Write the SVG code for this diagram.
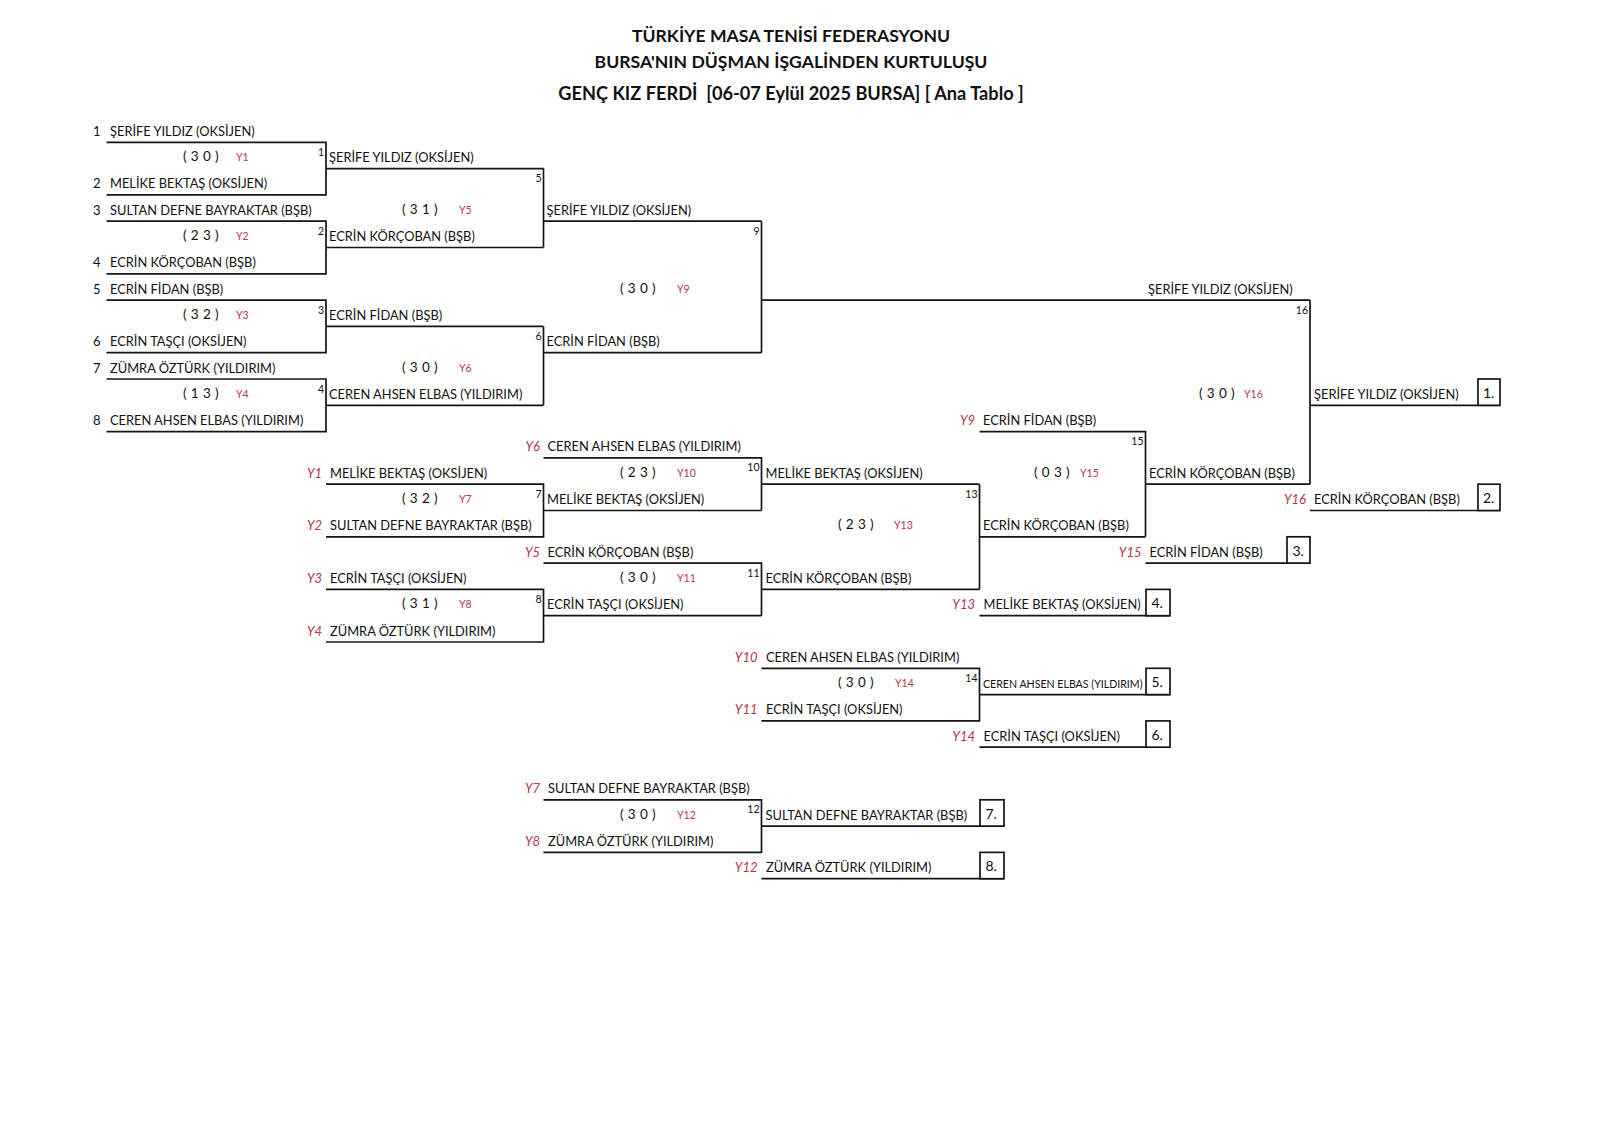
<svg xmlns="http://www.w3.org/2000/svg" width="1600" height="1131" viewBox="0 0 1600 1131">
<style>
text{font-family:Lato,"Liberation Sans","DejaVu Sans",sans-serif;fill:#111}
.t{font-size:17.6px;font-weight:bold;text-anchor:middle}
.t3{font-size:18.2px}
.n{font-size:12.85px}
.ns{font-size:10.6px}
.p{font-size:13px}
.s{font-size:13.5px;word-spacing:0.8px}
.y{font-size:10.5px;fill:#b5364f}
.yi{font-size:13px;font-style:italic;fill:#b5364f;text-anchor:end}
.m{font-size:10.5px;text-anchor:end}
.b{font-size:14px}
.ln{fill:none;stroke:#151515;stroke-width:1.7}
.bx{fill:#fff;stroke:#151515;stroke-width:1.7}
</style>
<rect width="1600" height="1131" fill="#fff"/>
<g id="title">
<text class="t" x="791" y="41.5">TÜRKİYE MASA TENİSİ FEDERASYONU</text>
<text class="t" x="791" y="68">BURSA'NIN DÜŞMAN İŞGALİNDEN KURTULUŞU</text>
<text class="t t3" x="791" y="99.5">GENÇ KIZ FERDİ&#160; [06-07 Eylül 2025 BURSA] [ Ana Tablo ]</text>
</g>
<g id="connectors" class="ln">
<path d="M106.5 142.3H326V194.9H106.5M326 168.6H543.5"/>
<path d="M106.5 221.2H326V273.8H106.5M326 247.5H543.5"/>
<path d="M106.5 300.1H326V352.7H106.5M326 326.4H543.5"/>
<path d="M106.5 379H326V431.6H106.5M326 405.3H543.5"/>
<path d="M543.5 168.6V247.5M543.5 221.2H761.5"/>
<path d="M543.5 326.4V405.3M543.5 352.7H761.5"/>
<path d="M761.5 221.2V352.7M761.5 300.1H1310"/>
<path d="M1310 300.1V484.2M1310 405.3H1500"/>
<path d="M1310 510.5H1500"/>
<path d="M979.5 431.6H1145.5V536.8M1145.5 484.2H1310"/>
<path d="M979.5 484.2V589.4M979.5 536.8H1145.5"/>
<path d="M1145.5 563.1H1310"/>
<path d="M326 484.2H543.5V536.8H326M543.5 510.5H761.5"/>
<path d="M543.5 457.9H761.5V510.5M761.5 484.2H979.5"/>
<path d="M326 589.4H543.5V642H326M543.5 615.7H761.5"/>
<path d="M543.5 563.1H761.5V615.7M761.5 589.4H979.5"/>
<path d="M979.5 615.7H1170"/>
<path d="M761.5 668.3H979.5V720.9H761.5M979.5 694.6H1170"/>
<path d="M979.5 747.2H1170"/>
<path d="M543.5 799.8H761.5V852.4H543.5M761.5 826.1H1004"/>
<path d="M761.5 878.7H1004"/>
</g>
<g id="r1">
<text class="p" x="93" y="135.8">1</text><text class="n" x="110" y="135.8">ŞERİFE YILDIZ (OKSİJEN)</text>
<text class="p" x="93" y="188.4">2</text><text class="n" x="110" y="188.4">MELİKE BEKTAŞ (OKSİJEN)</text>
<text class="p" x="93" y="214.7">3</text><text class="n" x="110" y="214.7">SULTAN DEFNE BAYRAKTAR (BŞB)</text>
<text class="p" x="93" y="267.3">4</text><text class="n" x="110" y="267.3">ECRİN KÖRÇOBAN (BŞB)</text>
<text class="p" x="93" y="293.6">5</text><text class="n" x="110" y="293.6">ECRİN FİDAN (BŞB)</text>
<text class="p" x="93" y="346.2">6</text><text class="n" x="110" y="346.2">ECRİN TAŞÇI (OKSİJEN)</text>
<text class="p" x="93" y="372.5">7</text><text class="n" x="110" y="372.5">ZÜMRA ÖZTÜRK (YILDIRIM)</text>
<text class="p" x="93" y="425.1">8</text><text class="n" x="110" y="425.1">CEREN AHSEN ELBAS (YILDIRIM)</text>
</g>
<g id="m1"><text class="s" x="183" y="161.1">( 3 0 )</text><text class="y" x="236" y="161.1">Y1</text><text class="m" x="324" y="155.8">1</text><text class="n" x="329" y="162.1">ŞERİFE YILDIZ (OKSİJEN)</text></g>
<g id="m2"><text class="s" x="183" y="240">( 2 3 )</text><text class="y" x="236" y="240">Y2</text><text class="m" x="324" y="234.7">2</text><text class="n" x="329" y="241">ECRİN KÖRÇOBAN (BŞB)</text></g>
<g id="m3"><text class="s" x="183" y="318.9">( 3 2 )</text><text class="y" x="236" y="318.9">Y3</text><text class="m" x="324" y="313.6">3</text><text class="n" x="329" y="319.9">ECRİN FİDAN (BŞB)</text></g>
<g id="m4"><text class="s" x="183" y="397.8">( 1 3 )</text><text class="y" x="236" y="397.8">Y4</text><text class="m" x="324" y="392.5">4</text><text class="n" x="329" y="398.8">CEREN AHSEN ELBAS (YILDIRIM)</text></g>
<g id="m5"><text class="s" x="402" y="213.7">( 3 1 )</text><text class="y" x="459" y="213.7">Y5</text><text class="m" x="541.5" y="182.1">5</text><text class="n" x="546.5" y="214.7">ŞERİFE YILDIZ (OKSİJEN)</text></g>
<g id="m6"><text class="s" x="402" y="371.5">( 3 0 )</text><text class="y" x="459" y="371.5">Y6</text><text class="m" x="541.5" y="339.9">6</text><text class="n" x="546.5" y="346.2">ECRİN FİDAN (BŞB)</text></g>
<g id="m9"><text class="s" x="620" y="292.6">( 3 0 )</text><text class="y" x="677" y="292.6">Y9</text><text class="m" x="759.5" y="234.7">9</text><text class="n" x="1148" y="293.6">ŞERİFE YILDIZ (OKSİJEN)</text></g>
<g id="m16"><text class="s" x="1199" y="397.8">( 3 0 )</text><text class="y" x="1244" y="397.8">Y16</text><text class="m" x="1308" y="313.6">16</text><text class="n" x="1314" y="398.8">ŞERİFE YILDIZ (OKSİJEN)</text></g>
<g id="m7"><text class="yi" x="322" y="477.7">Y1</text><text class="n" x="330" y="477.7">MELİKE BEKTAŞ (OKSİJEN)</text><text class="yi" x="322" y="530.3">Y2</text><text class="n" x="330" y="530.3">SULTAN DEFNE BAYRAKTAR (BŞB)</text><text class="s" x="402" y="503">( 3 2 )</text><text class="y" x="459" y="503">Y7</text><text class="m" x="541.5" y="497.7">7</text><text class="n" x="547" y="504">MELİKE BEKTAŞ (OKSİJEN)</text></g>
<g id="m8"><text class="yi" x="322" y="582.9">Y3</text><text class="n" x="330" y="582.9">ECRİN TAŞÇI (OKSİJEN)</text><text class="yi" x="322" y="635.5">Y4</text><text class="n" x="330" y="635.5">ZÜMRA ÖZTÜRK (YILDIRIM)</text><text class="s" x="402" y="608.2">( 3 1 )</text><text class="y" x="459" y="608.2">Y8</text><text class="m" x="541.5" y="602.9">8</text><text class="n" x="547" y="609.2">ECRİN TAŞÇI (OKSİJEN)</text></g>
<g id="m10"><text class="yi" x="540" y="451.4">Y6</text><text class="n" x="547.5" y="451.4">CEREN AHSEN ELBAS (YILDIRIM)</text><text class="s" x="620" y="476.7">( 2 3 )</text><text class="y" x="677" y="476.7">Y10</text><text class="m" x="759.5" y="471.4">10</text><text class="n" x="765.5" y="477.7">MELİKE BEKTAŞ (OKSİJEN)</text></g>
<g id="m11"><text class="yi" x="540" y="556.6">Y5</text><text class="n" x="547.5" y="556.6">ECRİN KÖRÇOBAN (BŞB)</text><text class="s" x="620" y="581.9">( 3 0 )</text><text class="y" x="677" y="581.9">Y11</text><text class="m" x="759.5" y="576.6">11</text><text class="n" x="765.5" y="582.9">ECRİN KÖRÇOBAN (BŞB)</text></g>
<g id="m13"><text class="s" x="838" y="529.3">( 2 3 )</text><text class="y" x="894" y="529.3">Y13</text><text class="m" x="977.5" y="497.7">13</text><text class="n" x="983" y="530.3">ECRİN KÖRÇOBAN (BŞB)</text></g>
<g id="m15"><text class="yi" x="975" y="425.1">Y9</text><text class="n" x="983" y="425.1">ECRİN FİDAN (BŞB)</text><text class="s" x="1034" y="476.7">( 0 3 )</text><text class="y" x="1080" y="476.7">Y15</text><text class="m" x="1143.5" y="445.1">15</text><text class="n" x="1149" y="477.7">ECRİN KÖRÇOBAN (BŞB)</text></g>
<g id="m14"><text class="yi" x="757.5" y="661.8">Y10</text><text class="n" x="766" y="661.8">CEREN AHSEN ELBAS (YILDIRIM)</text><text class="yi" x="757.5" y="714.4">Y11</text><text class="n" x="766" y="714.4">ECRİN TAŞÇI (OKSİJEN)</text><text class="s" x="838" y="687.1">( 3 0 )</text><text class="y" x="895" y="687.1">Y14</text><text class="m" x="977.5" y="681.8">14</text><text class="ns" x="983" y="688.1">CEREN AHSEN ELBAS (YILDIRIM)</text></g>
<g id="m12"><text class="yi" x="540" y="793.3">Y7</text><text class="n" x="548" y="793.3">SULTAN DEFNE BAYRAKTAR (BŞB)</text><text class="yi" x="540" y="845.9">Y8</text><text class="n" x="548" y="845.9">ZÜMRA ÖZTÜRK (YILDIRIM)</text><text class="s" x="620" y="818.6">( 3 0 )</text><text class="y" x="677" y="818.6">Y12</text><text class="m" x="759.5" y="813.3">12</text><text class="n" x="765.5" y="819.6">SULTAN DEFNE BAYRAKTAR (BŞB)</text></g>
<g id="place1"><rect class="bx" x="1478" y="379" width="22" height="26.3"/><text class="b" x="1483" y="397.5">1.</text></g>
<g id="place2"><text class="yi" x="1306" y="504">Y16</text><text class="n" x="1314" y="504">ECRİN KÖRÇOBAN (BŞB)</text><rect class="bx" x="1478" y="484.2" width="22" height="26.3"/><text class="b" x="1483" y="503">2.</text></g>
<g id="place3"><text class="yi" x="1141.5" y="556.6">Y15</text><text class="n" x="1149.5" y="556.6">ECRİN FİDAN (BŞB)</text><rect class="bx" x="1287" y="536.8" width="23" height="26.3"/><text class="b" x="1292.5" y="555.5">3.</text></g>
<g id="place4"><text class="yi" x="975" y="609.2">Y13</text><text class="n" x="983.5" y="609.2">MELİKE BEKTAŞ (OKSİJEN)</text><rect class="bx" x="1146" y="589.4" width="24" height="26.3"/><text class="b" x="1151.5" y="608">4.</text></g>
<g id="place5"><rect class="bx" x="1146" y="668.3" width="24" height="26.3"/><text class="b" x="1151.5" y="687">5.</text></g>
<g id="place6"><text class="yi" x="975" y="740.7">Y14</text><text class="n" x="983.5" y="740.7">ECRİN TAŞÇI (OKSİJEN)</text><rect class="bx" x="1146" y="720.9" width="24" height="26.3"/><text class="b" x="1151.5" y="739.5">6.</text></g>
<g id="place7"><rect class="bx" x="980" y="799.8" width="24" height="26.3"/><text class="b" x="985.5" y="818.5">7.</text></g>
<g id="place8"><text class="yi" x="757.5" y="872.2">Y12</text><text class="n" x="766" y="872.2">ZÜMRA ÖZTÜRK (YILDIRIM)</text><rect class="bx" x="980" y="852.4" width="24" height="26.3"/><text class="b" x="985.5" y="871">8.</text></g>
</svg>
